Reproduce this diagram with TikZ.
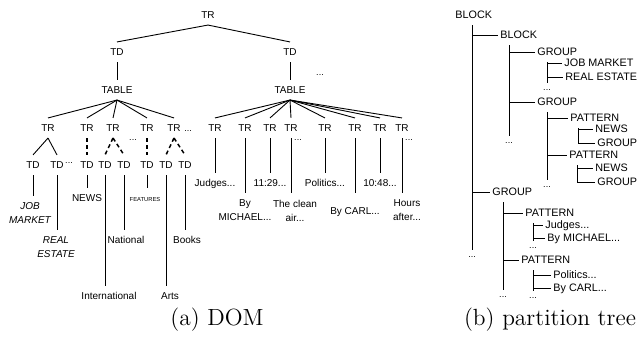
\documentclass[tikz,border=0pt]{standalone}
\usepackage{fontspec}
\setsansfont{Liberation Sans}
\usepackage{tikz}

\begin{document}
\begin{tikzpicture}[x=0.5pt,y=-0.5pt,line width=0.45pt,
		lbl/.style={font=\sffamily\fontsize{5}{7}\selectfont,inner sep=3pt},
		tag/.style={lbl,text height=3.6pt,text depth=0pt},
		twoline/.style={lbl,align=center,anchor=north},
		ital/.style={font=\sffamily\itshape\fontsize{5}{7}\selectfont},
		part/.style={tag,anchor=west,inner xsep=1pt,font=\sffamily\fontsize{5.4}{7}\selectfont,text height=3.9pt},
		dots/.style={font=\sffamily\fontsize{4.5}{5}\selectfont,inner sep=3pt},
		hid/.style={line width=0.75pt,dash pattern=on 2pt off 1.5pt},
		capt/.style={font=\fontsize{11.7}{14}\selectfont,anchor=base}]
	\useasboundingbox (0,0) rectangle (639,342);

	\node [tag] (tr) at (208,15) {TR};
	\node [tag] (tdA) at (117,52) {TD};
	\node [tag] (tdB) at (290,52) {TD};
	\node [tag] (tabA) at (117,90) {TABLE};
	\node [tag] (tabB) at (290,90) {TABLE};
	\node [dots] (dA) at (320,75) {...};
	\draw (tr.south) -- (tdA.north);
	\draw (tr.south) -- (tdB.north);
	\draw (tdA.south) -- (tabA.north);
	\draw (tdB.south) -- (tabB.north);

	\node [tag] (trA1) at (48,128) {TR};
	\node [tag] (trA2) at (87,128) {TR};
	\node [tag] (trA3) at (113,128) {TR};
	\node [tag] (trA4) at (147,128) {TR};
	\node [tag] (trA5) at (174,128) {TR};
	\node [dots] (dB) at (188,131) {...};
	\node [dots] (dC) at (133,140) {...};
	\draw (tabA.south) -- (trA1.north);
	\draw (tabA.south) -- (trA2.north);
	\draw (tabA.south) -- (trA3.north);
	\draw (tabA.south) -- (trA4.north);
	\draw (tabA.south) -- (trA5.north);

	\node [tag] (tdA1) at (33,165) {TD};
	\node [tag] (tdA2) at (57,165) {TD};
	\node [dots] (dD) at (69,163) {...};
	\node [tag] (tdA3) at (87,165) {TD};
	\node [tag] (tdA4) at (105,165) {TD};
	\node [tag] (tdA5) at (124,165) {TD};
	\node [tag] (tdA6) at (147,165) {TD};
	\node [tag] (tdA7) at (166,165) {TD};
	\node [tag] (tdA8) at (185,165) {TD};
	\draw (trA1.south) -- (tdA1.north);
	\draw (trA1.south) -- (tdA2.north);
	\draw [hid] (trA2.south) -- (tdA3.north);
	\draw [hid] (trA3.south) -- (tdA4.north);
	\draw [hid] (trA3.south) -- (tdA5.north);
	\draw [hid] (trA4.south) -- (tdA6.north);
	\draw [hid] (trA5.south) -- (tdA7.north);
	\draw [hid] (trA5.south) -- (tdA8.north);

	\node [twoline,ital] (jm) at (30,196) {JOB\\MARKET};
	\node [twoline,ital] (re) at (56,230) {REAL\\ESTATE};
	\node [tag] (news) at (87,198) {NEWS};
	\node [tag] (intl) at (109,296) {International};
	\node [tag] (natl) at (126,240) {National};
	\node [tag,font=\sffamily\fontsize{2.9}{3}\selectfont] (feat) at (145,198) {FEATURES};
	\node [tag] (arts) at (170,296) {Arts};
	\node [tag] (books) at (187,240) {Books};
	\draw (tdA1.south) -- (tdA1.south |- jm.north);
	\draw (tdA2.south) -- (tdA2.south |- re.north);
	\draw (tdA3.south) -- (news.north);
	\draw (tdA4.south) -- (tdA4.south |- intl.north);
	\draw (tdA5.south) -- (tdA5.south |- natl.north);
	\draw (tdA6.south) -- (tdA6.south |- feat.north);
	\draw (tdA7.south) -- (tdA7.south |- arts.north);
	\draw (tdA8.south) -- (tdA8.south |- books.north);

	\node [tag] (trB1) at (215,128) {TR};
	\node [tag] (trB2) at (245,128) {TR};
	\node [tag] (trB3) at (270,128) {TR};
	\node [tag] (trB4) at (291,128) {TR};
	\node [tag] (trB5) at (325,128) {TR};
	\node [tag] (trB6) at (355,128) {TR};
	\node [tag] (trB7) at (380,128) {TR};
	\node [tag] (trB8) at (402,128) {TR};
	\node [dots] (dE) at (298,140) {...};
	\node [dots] (dF) at (409,140) {...};
	\draw (tabB.south) -- (trB1.north);
	\draw (tabB.south) -- (trB2.north);
	\draw (tabB.south) -- (trB3.north);
	\draw (tabB.south) -- (trB4.north);
	\draw (tabB.south) -- (trB5.north);
	\draw (tabB.south) -- (trB6.north);
	\draw (tabB.south) -- (trB7.north);
	\draw (tabB.south) -- (trB8.north);

	\node [tag] (judges) at (215,183) {Judges...};
	\node [twoline] (michael) at (245,193.4) {By\\MICHAEL...};
	\node [tag] (timeA) at (270,183) {11:29...};
	\node [twoline] (clean) at (295,193.4) {The clean\\air...};
	\node [tag] (politics) at (325,183) {Politics...};
	\node [tag] (carl) at (355,211) {By CARL...};
	\node [tag] (timeB) at (380,183) {10:48...};
	\node [twoline] (hours) at (407,193.4) {Hours\\after...};
	\draw (trB1.south) -- (judges.north);
	\draw (trB2.south) -- (michael.north);
	\draw (trB3.south) -- (timeA.north);
	\draw (trB4.south) -- (trB4.south |- clean.north);
	\draw (trB5.south) -- (politics.north);
	\draw (trB6.south) -- (trB6.south |- hours.north);
	\draw (trB7.south) -- (timeB.north);
	\draw (trB8.south) -- (trB8.south |- hours.north);

	\node [part] (blk0) at (453,15) {BLOCK};
	\node [dots] (pd0) at (472,257) {...};
	\draw (pd0 |- blk0.south) -- (pd0.north);
	\node [part] (blk1) at (498,35) {BLOCK};
	\draw (pd0 |- blk1.west) -- (blk1.west);
	\node [dots] (pd1) at (509,143) {...};
	\draw (pd1 |- blk1.south) -- (pd1.north);

	\node [part] (grp1) at (535,52) {GROUP};
	\draw (pd1 |- grp1.west) -- (grp1.west);
	\node [dots] (pd2) at (547,90) {...};
	\draw (pd2 |- grp1.south) -- (pd2.north);
	\node [part] (jobm) at (562,63) {JOB MARKET};
	\node [part] (real) at (563,77) {REAL ESTATE};
	\draw (pd2 |- jobm.west) -- (jobm.west);
	\draw (pd2 |- real.west) -- (real.west);

	\node [part] (grp2) at (535,102) {GROUP};
	\draw (pd1 |- grp2.west) -- (grp2.west);
	\node [dots] (pd3) at (547,187) {...};
	\draw (pd3 |- grp2.south) -- (pd3.north);
	\node [part] (pat1) at (568,118) {PATTERN};
	\draw (pd3 |- pat1.west) -- (pat1.west);
	\coordinate (p1) at ([xshift=5pt]pat1.south west);
	\node [part] (newsA) at (593,129) {NEWS};
	\node [part] (grpA) at (595,143) {GROUP};
	\draw (p1) |- (grpA.west);
	\draw (p1 |- newsA.west) -- (newsA.west);
	\node [part] (pat2) at (567,155) {PATTERN};
	\draw (pd3 |- pat2.west) -- (pat2.west);
	\coordinate (p2) at ([xshift=5pt]pat2.south west);
	\node [part] (newsB) at (593,168) {NEWS};
	\node [part] (grpB) at (595,182) {GROUP};
	\draw (p2) |- (grpB.west);
	\draw (p2 |- newsB.west) -- (newsB.west);

	\node [part] (grp3) at (490,192) {GROUP};
	\draw (pd0 |- grp3.west) -- (grp3.west);
	\node [dots] (pd4) at (503,297) {...};
	\draw (pd4 |- grp3.south) -- (pd4.north);
	\node [part] (pat3) at (523,213) {PATTERN};
	\draw (pd4 |- pat3.west) -- (pat3.west);
	\node [dots] (pd5) at (533,248) {...};
	\draw (pd5 |- pat3.south) -- (pd5.north);
	\node [part] (judg) at (543,225) {Judges...};
	\node [part] (mich) at (545,238) {By MICHAEL...};
	\draw (pd5 |- judg.west) -- (judg.west);
	\draw (pd5 |- mich.west) -- (mich.west);
	\node [part] (pat4) at (519,260) {PATTERN};
	\draw (pd4 |- pat4.west) -- (pat4.west);
	\node [dots] (pd6) at (533,298) {...};
	\draw (pd6 |- pat4.south) -- (pd6.north);
	\node [part] (poli) at (551,275) {Politics...};
	\node [part] (carlB) at (551,288) {By CARL...};
	\draw (pd6 |- poli.west) -- (poli.west);
	\draw (pd6 |- carlB.west) -- (carlB.west);

	\node [capt] (capA) at (217,326) {(a) DOM};
	\node [capt] (capB) at (550,326) {(b) partition tree};
\end{tikzpicture}
\end{document}
